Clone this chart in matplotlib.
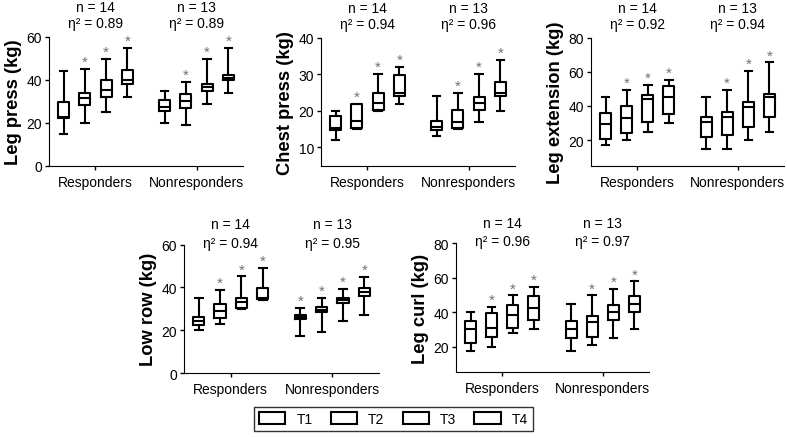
import matplotlib.pyplot as plt
from matplotlib.patches import Patch

plt.rcParams['font.family'] = ['Liberation Sans', 'DejaVu Sans']

groups = ['Responders', 'Nonresponders']
times = ['T1', 'T2', 'T3', 'T4']
n_sizes = [14, 13]

# each box: [whisker low, q1, median, q3, whisker high]
leg_press_resp = [[15, 22.2, 23, 29.6, 44], [20, 28.4, 31.5, 33.8, 45],
                  [25, 32.2, 35.5, 40, 50], [32, 38, 40, 44.8, 55]]
leg_press_nonresp = [[20, 25.4, 27.6, 30.8, 35], [19, 27, 30.2, 33.3, 39],
                     [29, 34.7, 36.7, 38.1, 50], [34, 40, 41, 42.3, 55]]
chest_press_resp = [[12, 14.8, 15.2, 18.7, 20], [15, 15.3, 17.1, 21.8, 22],
                    [20, 20.2, 22.1, 24.9, 30], [22, 24.1, 25, 29.8, 32]]
chest_press_nonresp = [[13, 14.7, 15.5, 17.3, 24], [15, 15.3, 17, 20.3, 25],
                       [17, 20.1, 22.1, 23.7, 30], [20, 24.1, 24.9, 28, 34]]
leg_ext_resp = [[17.3, 20.6, 29.4, 35.6, 45], [19.8, 24.1, 32.9, 40.1, 49.5],
                [25, 30.4, 44, 46.4, 52.2], [30, 35.2, 45.2, 51.5, 55.3]]
leg_ext_nonresp = [[14.7, 21.6, 30.4, 33.7, 45], [14.7, 22.9, 33.5, 36.6, 49.5],
                   [20.2, 27.8, 39.3, 42.1, 60.6], [25, 33.3, 45.4, 47, 65.5]]
low_row_resp = [[20.3, 22.5, 24.5, 26, 35], [23.1, 25.6, 29.2, 32.3, 39],
                [30, 30.6, 33, 35, 45.2], [34, 34.6, 35.2, 39.8, 49]]
low_row_nonresp = [[17.3, 25.1, 26.2, 27.1, 30.3], [19, 28.4, 29.6, 30.9, 35.2],
                   [24.2, 32.7, 34, 35.2, 39.4], [27.1, 35.9, 37.7, 39.8, 45]]
leg_curl_resp = [[17.1, 22.3, 30, 34.6, 39.8], [20, 25.4, 31, 39.2, 43],
                 [28, 30.5, 38.2, 44.4, 49.7], [30, 35.3, 42.5, 49.4, 54.8]]
leg_curl_nonresp = [[17.1, 25, 30.4, 34.6, 45], [20.6, 25.6, 34.4, 38, 49.7],
                    [25.2, 35.3, 40.2, 44.4, 53.6], [30.1, 40.2, 45, 49.6, 57.8]]

# significance asterisks per time point
stars_default = [0, 1, 1, 1]
low_row_stars_nonresp = [1, 1, 1, 1]

eta_leg_press = [0.89, 0.89]
eta_chest_press = [0.94, 0.96]
eta_leg_ext = [0.92, 0.94]
eta_low_row = [0.94, 0.95]
eta_leg_curl = [0.96, 0.97]

W, H = 787, 439
fig = plt.figure(figsize=(W / 100, H / 100), dpi=100)


def px_rect(left, top, right, bottom):
    return [left / W, 1 - bottom / H, (right - left) / W, (bottom - top) / H]


panels = [
    ('Leg press (kg)', leg_press_resp, leg_press_nonresp, eta_leg_press,
     [stars_default, stars_default], (0, 60), [0, 20, 40, 60], px_rect(49, 38, 243, 167), 'top'),
    ('Chest press (kg)', chest_press_resp, chest_press_nonresp, eta_chest_press,
     [stars_default, stars_default], (5, 40), [10, 20, 30, 40], px_rect(321, 38.7, 515, 166.7), 'top'),
    ('Leg extension (kg)', leg_ext_resp, leg_ext_nonresp, eta_leg_ext,
     [stars_default, stars_default], (5, 80), [20, 40, 60, 80], px_rect(591, 38.7, 784, 166.7), 'top'),
    ('Low row (kg)', low_row_resp, low_row_nonresp, eta_low_row,
     [stars_default, low_row_stars_nonresp], (0, 60), [0, 20, 40, 60], px_rect(184, 245.7, 379, 374), 'bottom'),
    ('Leg curl (kg)', leg_curl_resp, leg_curl_nonresp, eta_leg_curl,
     [stars_default, stars_default], (5, 80), [20, 40, 60, 80], px_rect(456, 244.3, 649, 373.3), 'bottom'),
]

offsets = [-0.315, -0.105, 0.105, 0.315]
lw = 1.5

for ylabel, resp, nonresp, etas, stars, ylim, yticks, rect, row in panels:
    ax = fig.add_axes(rect)
    for g, data in enumerate([resp, nonresp]):
        stats = []
        pos = []
        for t, (lo, q1, med, q3, hi) in enumerate(data):
            stats.append(dict(whislo=lo, q1=q1, med=med, q3=q3, whishi=hi, fliers=[]))
            pos.append(g + 1 + offsets[t])
        ax.bxp(stats, positions=pos, widths=0.11, capwidths=0.075, manage_ticks=False,
               boxprops=dict(color='black', linewidth=lw),
               whiskerprops=dict(color='black', linewidth=lw),
               capprops=dict(color='black', linewidth=lw),
               medianprops=dict(color='black', linewidth=lw))
        for t, s in enumerate(stars[g]):
            if s:
                ax.annotate('*', (pos[t], data[t][4]), xytext=(0, 0), textcoords='offset points',
                            ha='center', va='bottom', fontsize=11, color='#707070')
        if row == 'top':
            yn, ye = 1.235, 1.11
        else:
            yn, ye = 1.16, 1.015
        ax.text(g + 1, yn, f'n = {n_sizes[g]}', transform=ax.get_xaxis_transform(),
                ha='center', va='center', fontsize=10)
        ax.text(g + 1, ye, f'η² = {etas[g]:.2f}', transform=ax.get_xaxis_transform(),
                ha='center', va='center', fontsize=10)

    ax.set_xlim(0.54, 2.46)
    ax.set_ylim(*ylim)
    ax.set_yticks(yticks)
    ax.set_xticks([1, 2])
    ax.set_xticklabels(groups)
    ax.spines['top'].set_visible(False)
    ax.spines['right'].set_visible(False)
    ax.tick_params(labelsize=10, length=3, width=1, pad=2)
    ax.tick_params(axis='x', pad=3.5)
    ax.set_ylabel(ylabel, fontsize=13.2, fontweight='bold', labelpad=3)

handles = [Patch(facecolor='white', edgecolor='black', linewidth=1.5, label=t) for t in times]
fig.legend(handles=handles, loc='center', bbox_to_anchor=(0.5, 1 - 420 / H), ncol=4,
           fontsize=10, frameon=True, fancybox=False, edgecolor='black',
           handlelength=1.9, handleheight=0.95, handletextpad=0.8, columnspacing=1.3,
           borderpad=0.35)

fig.savefig('out.png', dpi=100)
